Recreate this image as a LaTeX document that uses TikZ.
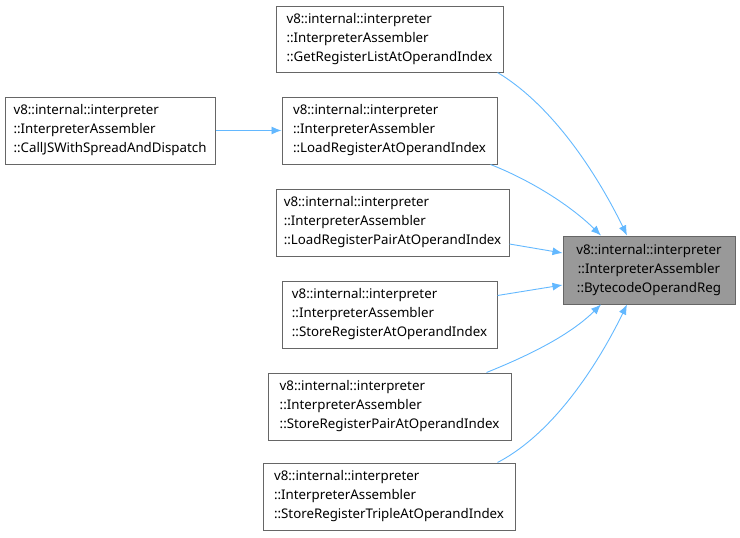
\documentclass[tikz,border=0pt]{standalone}
\usepackage{fontspec}
\setmainfont{Noto Sans}
\usetikzlibrary{arrows.meta}
\definecolor{edgec}{HTML}{63B8FF}
\definecolor{boxb}{HTML}{666666}
\begin{document}
\begin{tikzpicture}[x=1pt,y=-1pt,
  box/.style={draw=boxb, line width=1pt, fill=white, align=left, inner sep=0pt,
    font=\fontsize{13.3}{19}\selectfont, minimum height=#1},
  box/.default=67pt,
  tgt/.style={box=68pt, fill=black!40, align=center},
  edge/.style={draw=edgec, line width=0.9pt, -{Latex[length=10pt,width=8pt]}}]
\useasboundingbox (0,0) rectangle (740,538);
\node[tgt, minimum width=172pt] (t) at (649,270) {v8::internal::interpreter\\::InterpreterAssembler\\::BytecodeOperandReg};
\node[box=66pt, minimum width=227pt] (a) at (389.5,39) {v8::internal::interpreter\\::InterpreterAssembler\\::GetRegisterListAtOperandIndex};
\node[box, minimum width=215pt] (b) at (389.5,130.5) {v8::internal::interpreter\\::InterpreterAssembler\\::LoadRegisterAtOperandIndex};
\node[box, minimum width=210pt] (c) at (110,130.5) {v8::internal::interpreter\\::InterpreterAssembler\\::CallJSWithSpreadAndDispatch};
\node[box, minimum width=233pt] (d) at (392.5,222.5) {v8::internal::interpreter\\::InterpreterAssembler\\::LoadRegisterPairAtOperandIndex};
\node[box, minimum width=215pt] (e) at (389.5,314.5) {v8::internal::interpreter\\::InterpreterAssembler\\::StoreRegisterAtOperandIndex};
\node[box, minimum width=243pt] (f) at (389.5,406.5) {v8::internal::interpreter\\::InterpreterAssembler\\::StoreRegisterPairAtOperandIndex};
\node[box, minimum width=252pt] (g) at (389,496.5) {v8::internal::interpreter\\::InterpreterAssembler\\::StoreRegisterTripleAtOperandIndex};
\draw[edge] ([xshift=-6pt]a.south east) .. controls (560,110) and (605,190) .. ([xshift=-22pt]t.north);
\draw[edge] ([xshift=-7pt]b.south east) .. controls (530,180) and (570,205) .. ([xshift=-48pt]t.north);
\draw[edge] ([yshift=-21.5pt]d.east) -- ([yshift=17pt]t.west);
\draw[edge] ([yshift=-15pt]e.north east) -- ([yshift=-15pt]t.west);
\draw[edge] ([xshift=-25pt]f.north east) .. controls (530,355) and (570,335) .. ([xshift=-48pt]t.south);
\draw[edge] ([xshift=-18pt]g.north east) .. controls (560,430) and (605,350) .. ([xshift=-22pt]t.south);
\draw[edge] (c) -- (b);
\end{tikzpicture}
\end{document}
